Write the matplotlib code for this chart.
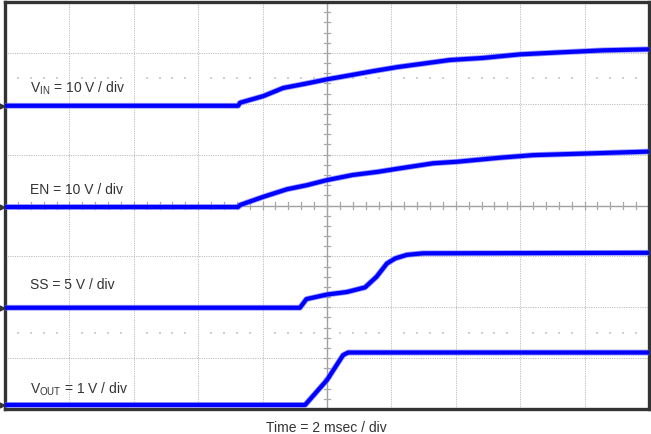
import matplotlib
matplotlib.use("Agg")
import matplotlib.pyplot as plt
import numpy as np

plt.rcParams['font.family'] = ['Liberation Sans', 'DejaVu Sans']
plt.rcParams['mathtext.fontset'] = 'custom'
plt.rcParams['mathtext.rm'] = 'Liberation Sans'

# Trace data in screen divisions (x: 0..10 time divisions, y: 0..8 vertical divisions)
vin_x = [0.0, 3.62, 3.65, 4.01, 4.32, 4.69, 5.00, 5.36, 5.71, 6.09, 6.91, 7.42, 7.99, 8.62, 9.29, 10.0]
vin_y = [5.96, 5.96, 6.02, 6.15, 6.31, 6.40, 6.48, 6.56, 6.64, 6.72, 6.86, 6.90, 6.97, 7.01, 7.05, 7.07]

en_x = [0.0, 3.62, 3.65, 4.01, 4.38, 4.69, 5.00, 5.40, 5.78, 6.13, 6.65, 7.02, 7.69, 8.20, 8.98, 10.0]
en_y = [3.97, 3.97, 4.01, 4.17, 4.32, 4.40, 4.50, 4.60, 4.66, 4.73, 4.83, 4.86, 4.94, 4.99, 5.02, 5.06]

ss_x = [0.0, 4.58, 4.68, 5.00, 5.31, 5.59, 5.77, 5.93, 6.06, 6.24, 6.49, 10.0]
ss_y = [1.99, 1.99, 2.16, 2.25, 2.30, 2.39, 2.60, 2.86, 2.96, 3.03, 3.06, 3.07]

vout_x = [0.0, 4.66, 5.00, 5.25, 5.33, 10.0]
vout_y = [0.08, 0.08, 0.57, 1.06, 1.11, 1.11]

labels = [r'V$_{\mathregular{IN}}$ = 10 V / div', 'EN = 10 V / div', 'SS = 5 V / div',
          r'V$_{\mathregular{OUT}}$ = 1 V / div']
label_y = [6.31, 4.30, 2.44, 0.39]
marker_y = [5.96, 3.97, 1.99, 0.08]
xlabel = 'Time = 2 msec / div'

fig = plt.figure(figsize=(6.51, 4.34), dpi=100)
ax = fig.add_axes([5/651, 1 - 409/434, 644/651, 407/434])
ax.set_xlim(0, 10)
ax.set_ylim(0, 8)
ax.set_xticks([])
ax.set_yticks([])
for s in ax.spines.values():
    s.set_color('#333333')
    s.set_linewidth(2.4)

grid_c = '#bdbdbd'
for i in range(1, 10):
    if i != 5:
        ax.axvline(i, color=grid_c, lw=0.7, ls=(0, (1.2, 1.2)), zorder=1)
for j in range(1, 8):
    if j != 4:
        ax.axhline(j, color=grid_c, lw=0.7, ls=(0, (1.2, 1.2)), zorder=1)
ax.axvline(5, color='#a0a0a0', lw=1.0, zorder=1)
ax.axhline(4, color='#a0a0a0', lw=1.0, zorder=1)

# minor tick marks on center lines
tx = np.arange(0.2, 10, 0.2)
for v in tx:
    ax.plot([v, v], [4 - 0.06, 4 + 0.06], color='#a8a8a8', lw=0.9, zorder=1)
ty = np.arange(0.2, 8, 0.2)
for v in ty:
    ax.plot([5 - 0.04, 5 + 0.04], [v, v], color='#a8a8a8', lw=0.9, zorder=1)

# dotted rows
dx = np.array([k / 5 for k in range(1, 50) if k % 5 != 0])
for yy in [6.5, 1.5]:
    ax.scatter(dx, np.full_like(dx, yy), s=1.0, color='#d0d0d0', marker='s', lw=0, zorder=1)

for xs, ys in [(vin_x, vin_y), (en_x, en_y), (ss_x, ss_y), (vout_x, vout_y)]:
    ax.plot(xs, ys, color='#7070ff', lw=4.2, solid_capstyle='butt', zorder=3, alpha=0.7)
    ax.plot(xs, ys, color='#0000ff', lw=3.0, solid_capstyle='butt', zorder=4)

for lab, yy in zip(labels, label_y):
    ax.text(0.39, yy, lab, fontsize=10, color='#333333', va='center', ha='left', zorder=5)

ax.scatter([-0.05] * 4, marker_y, marker='>', s=12, color='#333333', clip_on=False, zorder=6)

fig.text(326/651, 1 - 428/434, xlabel, fontsize=10, color='#333333', ha='center', va='center')

fig.savefig('out.png', dpi=100)
